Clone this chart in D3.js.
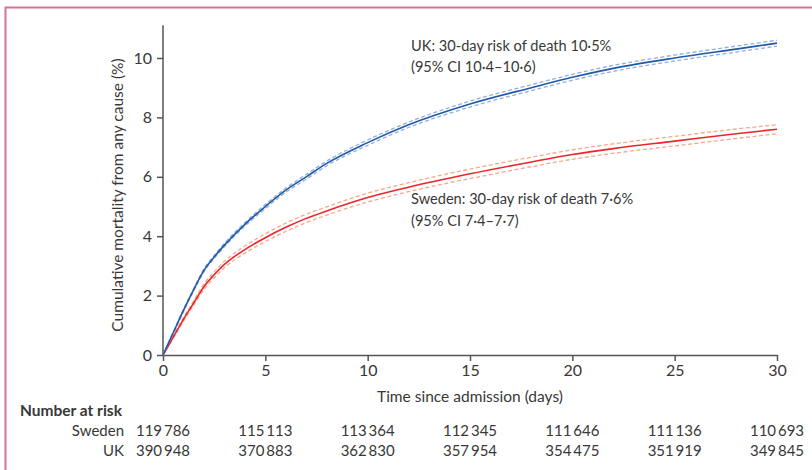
<!DOCTYPE html>
<html>
<head>
<meta charset="utf-8">
<script src="https://cdn.jsdelivr.net/npm/d3@7"></script>
<style>
	body { margin: 0; background: #fff; }
	svg { display: block; font-family: Lato, "Open Sans", sans-serif; }
	text { fill: #383838; }
</style>
</head>
<body>
<svg width="812" height="470"></svg>
<script>
// time points (days)
var days = [0, 0.5, 1, 1.5, 2, 2.5, 3, 4, 5, 6, 7, 8, 10, 12, 15, 18, 20, 22, 25, 28, 30];

// cumulative mortality (%)
var ukRisk    = [0, 0.75, 1.5, 2.2, 2.85, 3.3, 3.7, 4.4, 5.0, 5.55, 6.0, 6.45, 7.15, 7.75, 8.45, 9.0, 9.35, 9.65, 10.0, 10.3, 10.5];
var ukLower   = [0, 0.72, 1.46, 2.16, 2.8, 3.25, 3.64, 4.34, 4.93, 5.48, 5.92, 6.37, 7.06, 7.66, 8.35, 8.9, 9.25, 9.55, 9.9, 10.2, 10.4];
var ukUpper   = [0, 0.78, 1.54, 2.24, 2.9, 3.35, 3.76, 4.46, 5.07, 5.62, 6.08, 6.53, 7.24, 7.84, 8.55, 9.1, 9.45, 9.75, 10.1, 10.4, 10.6];
var sweRisk   = [0, 0.6, 1.2, 1.75, 2.3, 2.7, 3.05, 3.55, 3.95, 4.3, 4.6, 4.85, 5.3, 5.65, 6.1, 6.5, 6.75, 6.95, 7.2, 7.45, 7.6];
var sweLower  = [0, 0.55, 1.14, 1.68, 2.2, 2.6, 2.94, 3.43, 3.82, 4.16, 4.46, 4.71, 5.15, 5.5, 5.94, 6.34, 6.59, 6.79, 7.04, 7.29, 7.45];
var sweUpper  = [0, 0.65, 1.26, 1.82, 2.4, 2.8, 3.16, 3.67, 4.08, 4.44, 4.74, 4.99, 5.45, 5.8, 6.26, 6.66, 6.91, 7.11, 7.36, 7.61, 7.75];

// number at risk table
var riskDays  = [0, 5, 10, 15, 20, 25, 30];
var sweAtRisk = [119786, 115113, 113364, 112345, 111646, 111136, 110693];
var ukAtRisk  = [390948, 370883, 362830, 357954, 354475, 351919, 349845];

var xTicks = [0, 5, 10, 15, 20, 25, 30];
var yTicks = [0, 2, 4, 6, 8, 10];

var svg = d3.select('svg');

// pink frame (left + top only)
svg.append("path")
	.attr("d", "M5.5,470 V7.5 H812")
	.attr("fill", "none")
	.attr("stroke", "#d9728f")
	.attr("stroke-width", 2);

var x = d3.scaleLinear().domain([0, 30]).range([163, 777]);
var y = d3.scaleLinear().domain([0, 10]).range([355, 58]);

var axisColor = "#555";

// y axis
var yAxis = svg.append("g")
	.attr("transform", "translate(163,0)")
	.call(d3.axisLeft(y).tickValues(yTicks).tickSize(6).tickPadding(5).tickSizeOuter(0));
yAxis.select(".domain").remove();
yAxis.append("line")
	.attr("x1", 0).attr("x2", 0)
	.attr("y1", y(0)).attr("y2", y(11.1))
	.attr("stroke", axisColor).attr("stroke-width", 1.5);

// x axis
var xAxis = svg.append("g")
	.attr("transform", "translate(0,355)")
	.call(d3.axisBottom(x).tickValues(xTicks).tickSize(6).tickPadding(4).tickSizeOuter(0));
xAxis.select(".domain")
	.attr("stroke", axisColor).attr("stroke-width", 1.5);

svg.selectAll(".tick line").attr("stroke", axisColor).attr("stroke-width", 1.5);
svg.selectAll(".tick text")
	.attr("font-size", 16)
	.attr("font-family", "Lato, sans-serif")
	.attr("fill", "#383838");

// axis labels
svg.append("text")
	.attr("text-anchor", "middle")
	.attr("transform", "rotate(-90)")
	.attr("x", -195)
	.attr("y", 123)
	.attr("font-size", 15.5)
	.text("Cumulative mortality from any cause (%)");

svg.append("text")
	.attr("text-anchor", "middle")
	.attr("x", 470)
	.attr("y", 402)
	.attr("font-size", 15.5)
	.text("Time since admission (days)");

// curves
var line = function(vals) {
	return d3.line()
		.x(function(d, i) { return x(days[i]); })
		.y(function(d) { return y(d); })
		.curve(d3.curveMonotoneX)(vals);
};

var series = [
	{ lo: sweLower, hi: sweUpper, mid: sweRisk, main: "#e8262b", ci: "#f6a88c" },
	{ lo: ukLower,  hi: ukUpper,  mid: ukRisk,  main: "#1f5aa6", ci: "#93aee0" }
];

series.forEach(function(s) {
	[s.lo, s.hi].forEach(function(v) {
		svg.append("path")
			.attr("d", line(v))
			.attr("fill", "none")
			.attr("stroke", s.ci)
			.attr("stroke-width", 1.3)
			.attr("stroke-dasharray", "4,2.5");
	});
	svg.append("path")
		.attr("d", line(s.mid))
		.attr("fill", "none")
		.attr("stroke", s.main)
		.attr("stroke-width", 1.6);
});

// annotations
var notes = [
	{ y: 51, text: "UK: 30-day risk of death 10·5%" },
	{ y: 72, text: "(95% CI 10·4–10·6)" },
	{ y: 204, text: "Sweden: 30-day risk of death 7·6%" },
	{ y: 226, text: "(95% CI 7·4–7·7)" }
];
notes.forEach(function(n) {
	svg.append("text")
		.attr("x", 411)
		.attr("y", n.y)
		.attr("font-size", 14.6)
		.text(n.text);
});

// number at risk
var fmt = function(n) {
	var s = String(n);
	return s.slice(0, s.length - 3) + "\u2009" + s.slice(s.length - 3);
};

svg.append("text")
	.attr("x", 20)
	.attr("y", 416)
	.attr("font-size", 15.5)
	.attr("font-weight", "bold")
	.text("Number at risk");

var rows = [
	{ name: "Sweden", vals: sweAtRisk, y: 436 },
	{ name: "UK", vals: ukAtRisk, y: 456 }
];
rows.forEach(function(r) {
	svg.append("text")
		.attr("x", 124)
		.attr("y", r.y)
		.attr("text-anchor", "end")
		.attr("font-size", 15)
		.text(r.name);
	svg.selectAll(null)
		.data(r.vals)
		.enter().append("text")
		.attr("x", function(d, i) { return x(riskDays[i]); })
		.attr("y", r.y)
		.attr("text-anchor", "middle")
		.attr("font-size", 15)
		.text(function(d) { return fmt(d); });
});
</script>
</body>
</html>
